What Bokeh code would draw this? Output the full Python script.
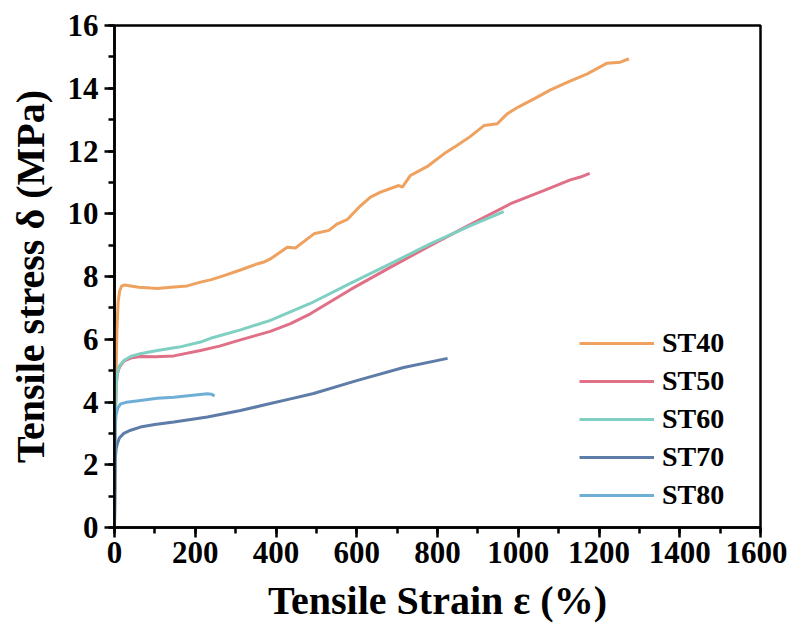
from bokeh.plotting import figure
from bokeh.models import Range1d, SingleIntervalTicker, Legend, LegendItem
from bokeh.embed import file_html
from bokeh.resources import INLINE

# ---- data ----
st40_x = [0, 2, 4, 6, 9, 13, 18, 25, 40, 60, 90, 106, 140, 180, 213, 240, 271, 310, 353, 370, 386, 428, 448, 494, 531, 552, 576, 605, 634, 659, 704, 713, 733, 774, 816, 849, 880, 915, 948, 973, 1000, 1039, 1080, 1121, 1171, 1220, 1253, 1274]
st40_y = [0, 3.0, 5.0, 6.3, 7.2, 7.55, 7.7, 7.73, 7.7, 7.66, 7.63, 7.62, 7.66, 7.7, 7.82, 7.9, 8.03, 8.2, 8.4, 8.46, 8.56, 8.93, 8.91, 9.36, 9.47, 9.68, 9.81, 10.2, 10.53, 10.69, 10.9, 10.85, 11.22, 11.5, 11.91, 12.18, 12.45, 12.81, 12.87, 13.19, 13.4, 13.66, 13.95, 14.19, 14.46, 14.8, 14.83, 14.94]

st50_x = [0, 2, 4, 7, 12, 23, 40, 64, 100, 147, 213, 260, 312, 386, 436, 485, 584, 684, 783, 882, 981, 1063, 1129, 1154, 1177]
st50_y = [0, 3.5, 4.5, 4.9, 5.1, 5.3, 5.4, 5.45, 5.44, 5.47, 5.64, 5.78, 5.98, 6.25, 6.5, 6.81, 7.58, 8.3, 8.99, 9.66, 10.32, 10.74, 11.08, 11.17, 11.29]

st60_x = [0, 2, 4, 7, 12, 23, 40, 64, 106, 160, 213, 238, 312, 386, 485, 584, 684, 783, 882, 964]
st60_y = [0, 3.5, 4.5, 4.9, 5.15, 5.32, 5.45, 5.54, 5.64, 5.75, 5.91, 6.03, 6.3, 6.6, 7.14, 7.78, 8.41, 9.05, 9.62, 10.07]

st70_x = [0, 1, 2, 4, 7, 12, 23, 40, 64, 100, 147, 230, 312, 386, 436, 493, 602, 716, 825]
st70_y = [0, 1.5, 2.2, 2.5, 2.67, 2.85, 3.0, 3.1, 3.2, 3.28, 3.36, 3.52, 3.73, 3.95, 4.1, 4.27, 4.69, 5.1, 5.39]

st80_x = [0, 1, 2, 4, 8, 15, 30, 64, 106, 147, 200, 230, 240, 248]
st80_y = [0, 2.5, 3.3, 3.6, 3.8, 3.94, 3.99, 4.05, 4.12, 4.15, 4.22, 4.26, 4.25, 4.19]

series_names = ["ST40", "ST50", "ST60", "ST70", "ST80"]
series_colors = ["#EFA15F", "#E07088", "#7FD0C2", "#5D7CA8", "#6FAFD6"]

FONT = "Liberation Serif"

p = figure(width=787, height=626, output_backend="svg", toolbar_location=None,
           x_range=Range1d(0, 1600), y_range=Range1d(0, 16),
           min_border_left=114, min_border_right=27, min_border_top=25, min_border_bottom=99)
p.xgrid.visible = False
p.ygrid.visible = False
p.outline_line_color = "black"
p.outline_line_width = 2.5
p.background_fill_color = "white"
p.border_fill_color = "white"

xs = [st40_x, st50_x, st60_x, st70_x, st80_x]
ys = [st40_y, st50_y, st60_y, st70_y, st80_y]
renderers = []
for x, y, c in zip(xs, ys, series_colors):
    r = p.line(x, y, line_color=c, line_width=3)
    renderers.append(r)

p.xaxis.ticker = SingleIntervalTicker(interval=200, num_minor_ticks=2)
p.yaxis.ticker = SingleIntervalTicker(interval=2, num_minor_ticks=2)
for ax in (p.xaxis, p.yaxis):
    ax.axis_line_width = 2.5
    ax.major_tick_line_width = 2.5
    ax.minor_tick_line_width = 2.5
    ax.major_tick_in = 0
    ax.major_tick_out = 10
    ax.minor_tick_in = 0
    ax.minor_tick_out = 6
    ax.major_label_text_font = FONT
    ax.major_label_text_font_style = "bold"
    ax.major_label_text_font_size = "31px"
    ax.major_label_text_color = "black"
    ax.axis_label_text_font = FONT
    ax.axis_label_text_font_style = "bold"
    ax.axis_label_text_font_size = "40px"
    ax.axis_label_text_color = "black"
p.xaxis.axis_label = "Tensile Strain ε (%)"
p.yaxis.axis_label = "Tensile stress δ (MPa)"
p.xaxis.major_label_standoff = 4
p.yaxis.major_label_standoff = 6
p.xaxis.axis_label_standoff = 12
p.yaxis.axis_label_standoff = 12

legend = Legend(items=[LegendItem(label=n, renderers=[r]) for n, r in zip(series_names, renderers)],
                location=(465, 16), glyph_width=75, glyph_height=30, label_height=30,
                label_width=60, spacing=6, padding=0, margin=0, label_standoff=8,
                border_line_color=None, background_fill_alpha=0,
                label_text_font=FONT, label_text_font_style="bold", label_text_font_size="28px",
                label_text_color="black")
p.add_layout(legend)

open("out.html", "w").write(file_html(p, INLINE))
